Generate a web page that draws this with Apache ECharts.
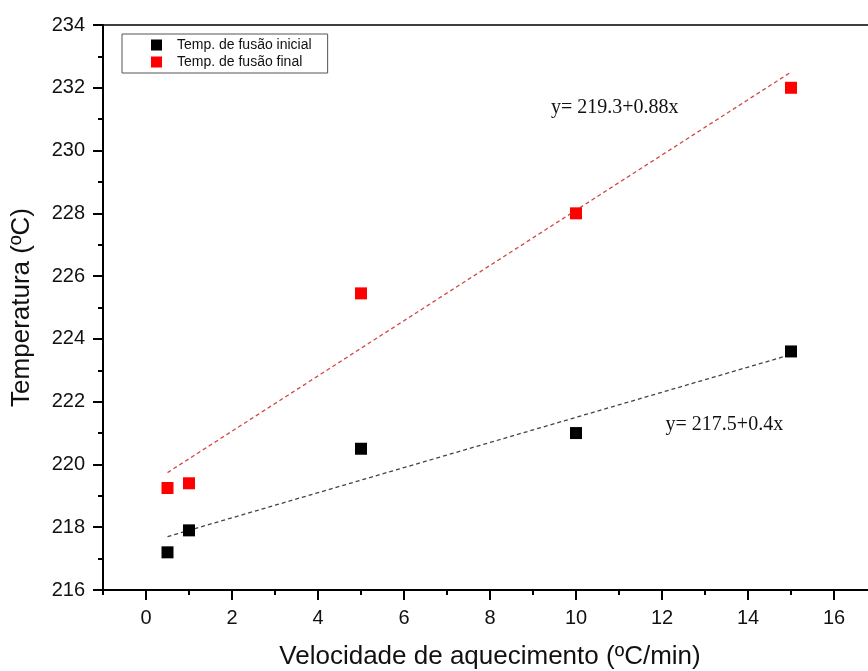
<!DOCTYPE html>
<html>
<head>
<meta charset="utf-8">
<script src="https://cdn.jsdelivr.net/npm/echarts@6/dist/echarts.min.js"></script>
<style>
  html, body { margin: 0; padding: 0; background: #fff; }
  #chart { width: 868px; height: 671px; }
</style>
</head>
<body>
<div id="chart"></div>
<script>
// velocidades de aquecimento (ºC/min)
var rates = [0.5, 1, 5, 10, 15];
// temperaturas medidas (ºC)
var tInicial = [217.2, 217.9, 220.5, 221.0, 223.6];
var tFinal = [219.25, 219.4, 225.45, 228.0, 232.0];
// retas de ajuste: [intercepto, inclinação]
var fitInicial = [217.5, 0.4];
var fitFinal = [219.3, 0.88];
// textos das equações e onde ficam (coordenadas de dados)
var eqInicial = { text: 'y= 217.5+0.4x', at: [13.45, 221.25] };
var eqFinal = { text: 'y= 219.3+0.88x', at: [10.9, 231.35] };
// ticks do eixo x
var xMajor = [0, 2, 4, 6, 8, 10, 12, 14, 16];
var xMinor = [-1, 1, 3, 5, 7, 9, 11, 13, 15, 17];

function pairs(xs, ys) {
  return xs.map(function (x, i) { return [x, ys[i]]; });
}
function fitLine(fit) {
  var x0 = rates[0], x1 = rates[rates.length - 1];
  return [[x0, fit[0] + fit[1] * x0], [x1, fit[0] + fit[1] * x1]];
}

var chart = echarts.init(document.getElementById('chart'), null, { renderer: 'canvas' });

var axisFont = { fontFamily: 'Liberation Sans', color: '#111' };

var option = {
  animation: false,
  backgroundColor: '#fff',
  grid: {
    left: 103, top: 25, width: 774, height: 565,
    outerBoundsMode: 'none', containLabel: false,
    show: true, borderColor: '#000', borderWidth: 1.5
  },
  legend: {
    orient: 'vertical',
    left: 122, top: 34,
    padding: [4, 16, 4, 29],
    itemWidth: 11, itemHeight: 11, itemGap: 3,
    borderColor: '#555', borderWidth: 1,
    textStyle: { fontFamily: 'Liberation Sans', fontSize: 14, color: '#111', padding: [0, 0, 0, 10] },
    data: [
      { name: 'Temp. de fusão inicial', icon: 'rect' },
      { name: 'Temp. de fusão final', icon: 'rect' }
    ]
  },
  xAxis: [{
    type: 'value', min: -1, max: 17,
    splitLine: { show: false },
    axisLine: { show: true, onZero: false, lineStyle: { color: '#000', width: 2 } },
    axisTick: { show: true, length: 10, lineStyle: { width: 2, color: '#000' }, customValues: xMajor },
    axisLabel: Object.assign({ fontSize: 20, margin: 18, customValues: xMajor }, axisFont),
    name: 'Velocidade de aquecimento (ºC/min)',
    nameLocation: 'middle', nameGap: 54,
    nameTextStyle: { fontFamily: 'Liberation Sans', fontSize: 26, color: '#111' }
  }, {
    type: 'value', min: -1, max: 17, position: 'bottom',
    splitLine: { show: false },
    axisLine: { show: false, onZero: false },
    axisTick: { show: true, length: 5, lineStyle: { width: 2, color: '#000' }, customValues: xMinor },
    axisLabel: { show: false }
  }],
  yAxis: {
    type: 'value', min: 216, max: 234, interval: 2,
    splitLine: { show: false },
    axisLine: { show: true, onZero: false, lineStyle: { color: '#000', width: 2 } },
    axisTick: { show: true, length: 10, lineStyle: { width: 2, color: '#000' } },
    minorTick: { show: true, splitNumber: 2, length: 5, lineStyle: { width: 2, color: '#000' } },
    axisLabel: Object.assign({ fontSize: 20, margin: 18 }, axisFont),
    name: 'Temperatura (ºC)',
    nameLocation: 'middle', nameGap: 68,
    nameTextStyle: { fontFamily: 'Liberation Sans', fontSize: 26, color: '#111' }
  },
  series: [{
    name: 'ajuste final',
    type: 'line',
    data: fitLine(fitFinal),
    symbol: 'none',
    lineStyle: { color: '#d04848', width: 1.3, type: [4, 3] },
    markPoint: {
      symbol: 'circle', symbolSize: 0,
      label: { show: true, position: 'inside', formatter: eqFinal.text,
        fontFamily: 'Liberation Serif', fontSize: 20, color: '#111' },
      data: [{ coord: eqFinal.at }]
    },
    z: 2
  }, {
    name: 'ajuste inicial',
    type: 'line',
    data: fitLine(fitInicial),
    symbol: 'none',
    lineStyle: { color: '#444', width: 1.3, type: [4, 3] },
    markPoint: {
      symbol: 'circle', symbolSize: 0,
      label: { show: true, position: 'inside', formatter: eqInicial.text,
        fontFamily: 'Liberation Serif', fontSize: 20, color: '#111' },
      data: [{ coord: eqInicial.at }]
    },
    z: 2
  }, {
    name: 'Temp. de fusão inicial',
    type: 'scatter',
    data: pairs(rates, tInicial),
    symbol: 'rect', symbolSize: 12,
    itemStyle: { color: '#000', opacity: 1 },
    z: 3
  }, {
    name: 'Temp. de fusão final',
    type: 'scatter',
    data: pairs(rates, tFinal),
    symbol: 'rect', symbolSize: 12,
    itemStyle: { color: '#f00', opacity: 1 },
    z: 3
  }]
};

chart.setOption(option);
</script>
</body>
</html>
